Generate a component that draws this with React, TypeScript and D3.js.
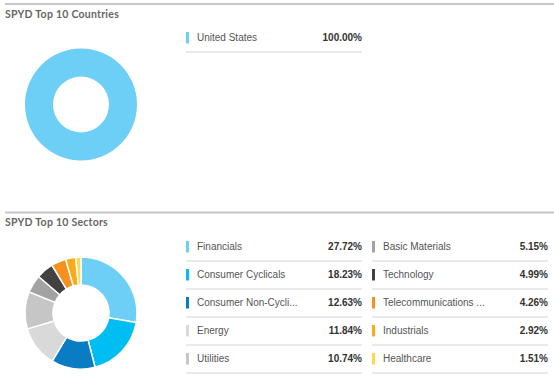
import React from "react";
import * as d3 from "d3";

const countryNames = ["United States"];
const countryValues = [100.0];
const countryColors = ["#6dcff6"];

const sectorNames = [
  "Financials",
  "Consumer Cyclicals",
  "Consumer Non-Cycli...",
  "Energy",
  "Utilities",
  "Basic Materials",
  "Technology",
  "Telecommunications ...",
  "Industrials",
  "Healthcare",
];
const sectorValues = [27.72, 18.23, 12.63, 11.84, 10.74, 5.15, 4.99, 4.26, 2.92, 1.51];
const sectorColors = [
  "#6dcff6",
  "#00bdf2",
  "#0a7cc4",
  "#d9d9d9",
  "#c6c6c6",
  "#a3a3a3",
  "#424242",
  "#f7901e",
  "#fbab18",
  "#ffd84d",
];

const W = 554;
const H = 379;

function Donut({ cx, cy, values, colors }: { cx: number; cy: number; values: number[]; colors: string[] }) {
  const pie = d3.pie<number>().sort(null).value((d) => d);
  const arc = d3.arc<d3.PieArcDatum<number>>().innerRadius(28).outerRadius(56);
  const arcs = pie(values);
  return (
    <g transform={`translate(${cx},${cy})`}>
      {arcs.map((a, i) => (
        <path
          key={i}
          d={arc(a) || ""}
          fill={colors[i]}
          stroke={values.length > 1 ? "#fff" : "none"}
          strokeWidth={values.length > 1 ? 1.5 : 0}
        />
      ))}
    </g>
  );
}

function LegendRow({ x0, x1, y, name, value, color }: { x0: number; x1: number; y: number; name: string; value: number; color: string }) {
  return (
    <g>
      <rect x={x0} y={y - 5.5} width={3} height={11.5} fill={color} />
      <text x={x0 + 11} y={y + 3.6} fontFamily="Liberation Sans, Arial, sans-serif" fontSize={10} fill="#555">
        {name}
      </text>
      <text
        x={x1}
        y={y + 3.6}
        textAnchor="end"
        fontFamily="Liberation Sans, Arial, sans-serif"
        fontSize={10}
        fontWeight="bold"
        fill="#333"
      >
        {value.toFixed(2) + "%"}
      </text>
      <line x1={x0} x2={x1} y1={y + 14.5} y2={y + 14.5} stroke="#e3e3e3" strokeWidth={1.5} />
    </g>
  );
}

export default function App() {
  const rowH = 28;
  return (
    <svg width={W} height={H} style={{ position: "absolute", left: 0, top: 0, background: "#fff" }}>
      {/* Section 1 */}
      <line x1={5} x2={W} y1={4} y2={4} stroke="#c8c8c8" strokeWidth={2} />
      <text x={5} y={17.5} fontFamily="Lato, Open Sans, sans-serif" fontWeight="bold" fontSize={10.5} letterSpacing={0.25} fill="#666">
        SPYD Top 10 Countries
      </text>
      <Donut cx={81} cy={104.5} values={countryValues} colors={countryColors} />
      {countryNames.map((n, i) => (
        <LegendRow key={n} x0={186} x1={362} y={37.5 + i * rowH} name={n} value={countryValues[i]} color={countryColors[i]} />
      ))}

      {/* Section 2 */}
      <line x1={5} x2={W} y1={212.5} y2={212.5} stroke="#c8c8c8" strokeWidth={2} />
      <text x={5} y={226} fontFamily="Lato, Open Sans, sans-serif" fontWeight="bold" fontSize={10.5} letterSpacing={0.25} fill="#666">
        SPYD Top 10 Sectors
      </text>
      <Donut cx={81} cy={313} values={sectorValues} colors={sectorColors} />
      {sectorNames.map((n, i) => {
        const col = i < 5 ? 0 : 1;
        const r = i % 5;
        const x0 = col === 0 ? 186 : 372;
        const x1 = col === 0 ? 362 : 548;
        return (
          <LegendRow key={n} x0={x0} x1={x1} y={246.5 + r * rowH} name={n} value={sectorValues[i]} color={sectorColors[i]} />
        );
      })}
    </svg>
  );
}
